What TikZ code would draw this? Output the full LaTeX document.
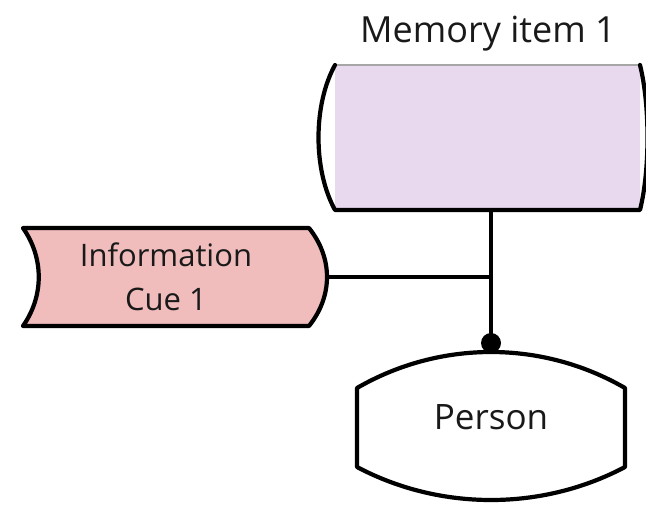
\documentclass[tikz,border=0pt]{standalone}
\usepackage{fontspec}
\setmainfont{Open Sans}
\usetikzlibrary{positioning, backgrounds}

\definecolor{memfill}{HTML}{E8D9EE}
\definecolor{cuefill}{HTML}{F0BCBC}

\begin{document}
\begin{tikzpicture}[%
        x = 1pt,
        y = -1pt,
        outline/.style = {%
            line width = 4.2pt,
            line cap = round,
            line join = round
        },
        textlabel/.style = {%
            font = \fontsize{31}{44}\selectfont,
            text = black!90,
            align = center
        },
        shapebox/.style = {%
            inner sep = 0pt,
            outer sep = 0pt
        }
    ]

        % Fix the page to the size of the figure.
        \useasboundingbox (0, 0) rectangle (646, 504);

        % Nodes holding the three shapes.
        \node[shapebox, minimum width = 305pt, minimum height = 145pt] (mem) at (487.5, 137.5) {};
        \node[textlabel, font = \fontsize{36}{44}\selectfont] (memlabel) at (488, 34) {Memory item 1};
        \node[shapebox, textlabel, minimum width = 282pt, minimum height = 98pt] (cue) at (166, 277) {Information\\Cue 1};
        \node[shapebox, textlabel, font = \fontsize{35}{40}\selectfont,
            text depth = 20pt, minimum width = 268pt, minimum height = 79pt] (person) at (491, 427.5) {Person};
        \coordinate (persontop) at ([yshift = 45pt]person.north);

        \begin{scope}[on background layer]
        \begin{scope}[outline]
            % Connectors, drawn first so the shapes cover their ends.
            \draw (persontop |- mem.south) -- (persontop);
            \draw (cue.east) -- (cue.east -| persontop);
            \fill (persontop) circle (10pt);

            % Memory item: filled box with curved sides.
            \fill[memfill] (mem.north west) rectangle (mem.south east);
            \draw[gray!70, line width = 1.2pt] (mem.north west) -- (mem.north east);
            \draw (mem.north west) .. controls +(-22, 40) and +(-22, -40) .. (mem.south west)
                -- (mem.south east) .. controls +(10, -40) and +(10, 40) .. (mem.north east);

            % Information cue: flag with both sides bent the same way.
            \filldraw[fill = cuefill] ([xshift = -2pt]cue.north west) -- ([xshift = 2pt]cue.north east)
                .. controls +(24, 30) and +(24, -30) .. ([xshift = 2pt]cue.south east) -- ([xshift = -2pt]cue.south west)
                .. controls +(21, -30) and +(21, 30) .. ([xshift = -2pt]cue.north west) -- cycle;

            % Person: box with arched top and bottom.
            \filldraw[fill = white] (person.north west) .. controls +(83, -48) and +(-83, -48) .. (person.north east)
                -- (person.south east) .. controls +(-83, 44) and +(83, 44) .. (person.south west) -- cycle;
        \end{scope}
        \end{scope}
    \end{tikzpicture}
\end{document}
